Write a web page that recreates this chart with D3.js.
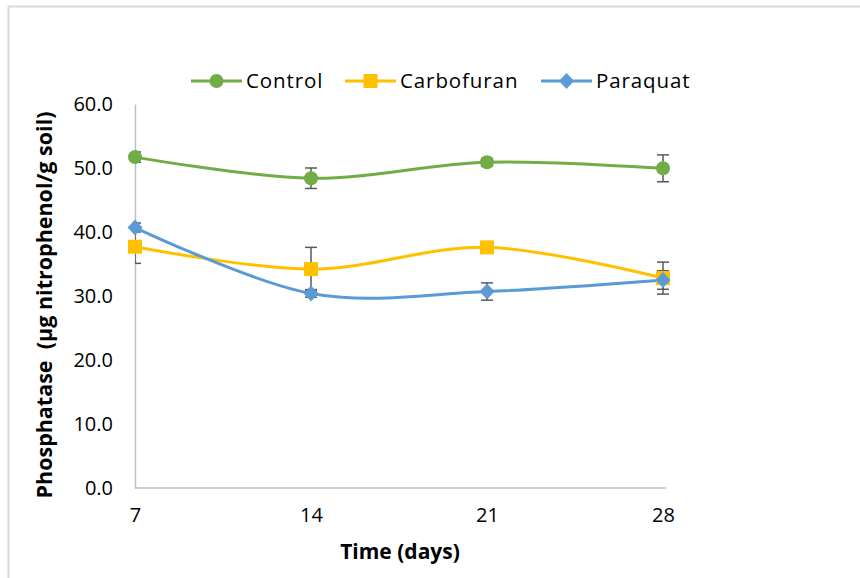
<!DOCTYPE html>
<html>
<head>
<meta charset="utf-8">
<script src="https://cdn.jsdelivr.net/npm/d3@7"></script>
<style>
  html, body { margin: 0; padding: 0; background: #fff; }
  svg { display: block; font-family: "Open Sans", "Liberation Sans", sans-serif; }
</style>
</head>
<body>
<svg id="chart" width="860" height="578"></svg>
<script>
const days = [7, 14, 21, 28];
const seriesNames = ["Control", "Carbofuran", "Paraquat"];
const controlValues = [51.7, 48.4, 50.9, 49.95];
const carbofuranValues = [37.7, 34.2, 37.6, 32.8];
const paraquatValues = [40.7, 30.4, 30.7, 32.5];
const controlErrors = [0.8, 1.6, 0.6, 2.1];
const carbofuranErrors = [2.6, 3.4, 0.8, 2.5];
const paraquatErrors = [0.7, 0.6, 1.35, 1.45];
const yTicks = [0, 10, 20, 30, 40, 50, 60];
const xTicks = [7, 14, 21, 28];
const colors = ["#70AD47", "#FFC000", "#5B9BD5"];
const markers = ["circle", "square", "diamond"];

const series = seriesNames.map((name, i) => ({
  name,
  values: [controlValues, carbofuranValues, paraquatValues][i],
  errors: [controlErrors, carbofuranErrors, paraquatErrors][i],
  color: colors[i],
  marker: markers[i]
}));

const svg = d3.select("#chart");

// outer border
svg.append("rect").attr("x", 8.5).attr("y", 6.5).attr("width", 900).attr("height", 600)
  .attr("fill", "none").attr("stroke", "#D9D9D9").attr("stroke-width", 2);

const x = d3.scaleLinear().domain([7, 28]).range([135, 663]);
const y = d3.scaleLinear().domain([0, 60]).range([488, 104]);

// axes
const yAxis = svg.append("g").attr("transform", "translate(135,0)")
  .call(d3.axisLeft(y).tickValues(yTicks).tickSize(0).tickPadding(22).tickFormat(d3.format(".1f")));
yAxis.select(".domain").attr("stroke", "#BFBFBF").attr("stroke-width", 1.5);
yAxis.selectAll("text").attr("font-size", 20).attr("fill", "#000").attr("font-family", "Open Sans");

const xAxis = svg.append("g").attr("transform", "translate(0,488)")
  .call(d3.axisBottom(x).tickValues(xTicks).tickSize(0).tickPadding(20).tickFormat(d3.format("d")));
xAxis.select(".domain").attr("stroke", "#BFBFBF").attr("stroke-width", 1.5)
  .attr("d", `M135,0H666`);
xAxis.selectAll("text").attr("font-size", 20).attr("fill", "#000").attr("font-family", "Open Sans");

// axis titles
svg.append("text").attr("transform", "translate(52,305) rotate(-90)")
  .attr("text-anchor", "middle").attr("font-size", 21.5).attr("font-weight", "bold")
  .attr("xml:space", "preserve")
  .text("Phosphatase  (µg nitrophenol/g soil)");
svg.append("text").attr("x", 400).attr("y", 559)
  .attr("text-anchor", "middle").attr("font-size", 21).attr("font-weight", "bold")
  .text("Time (days)");

// clip for plot area
svg.append("clipPath").attr("id", "plotclip").append("rect")
  .attr("x", 135).attr("y", 90).attr("width", 560).attr("height", 400);

const line = d3.line().x((d, i) => x(days[i])).y(d => y(d)).curve(d3.curveCardinal.tension(0));

function drawMarker(g, type, cx, cy, color) {
  if (type === "circle") {
    g.append("circle").attr("cx", cx).attr("cy", cy).attr("r", 7).attr("fill", color);
  } else if (type === "square") {
    g.append("rect").attr("x", cx - 7).attr("y", cy - 7).attr("width", 14).attr("height", 14).attr("fill", color);
  } else {
    g.append("path").attr("d", `M${cx},${cy - 8}L${cx + 7.5},${cy}L${cx},${cy + 8}L${cx - 7.5},${cy}Z`).attr("fill", color);
  }
}

// error bars
const eg = svg.append("g").attr("clip-path", "url(#plotclip)");
series.forEach(s => {
  s.values.forEach((v, i) => {
    const cx = x(days[i]);
    const y1 = y(v + s.errors[i]), y2 = y(v - s.errors[i]);
    eg.append("line").attr("x1", cx).attr("x2", cx).attr("y1", y1).attr("y2", y2)
      .attr("stroke", "#595959").attr("stroke-width", 1.5);
    [y1, y2].forEach(yy => eg.append("line").attr("x1", cx - 6).attr("x2", cx + 6)
      .attr("y1", yy).attr("y2", yy).attr("stroke", "#595959").attr("stroke-width", 1.5));
  });
});

// lines and markers
series.forEach(s => {
  svg.append("path").attr("d", line(s.values)).attr("fill", "none")
    .attr("stroke", s.color).attr("stroke-width", 3).attr("stroke-linecap", "round");
});
series.forEach(s => {
  const g = svg.append("g");
  s.values.forEach((v, i) => drawMarker(g, s.marker, x(days[i]), y(v), s.color));
});

// legend
const legendX = [191, 345, 541];
const legend = svg.append("g");
series.forEach((s, i) => {
  const lx = legendX[i];
  legend.append("line").attr("x1", lx).attr("x2", lx + 51).attr("y1", 81).attr("y2", 81)
    .attr("stroke", s.color).attr("stroke-width", 3);
  drawMarker(legend, s.marker, lx + 25.5, 81, s.color);
  legend.append("text").attr("x", lx + 55).attr("y", 88).attr("font-size", 20.5)
    .attr("letter-spacing", 0.9).attr("fill", "#000").text(s.name);
});
</script>
</body>
</html>
